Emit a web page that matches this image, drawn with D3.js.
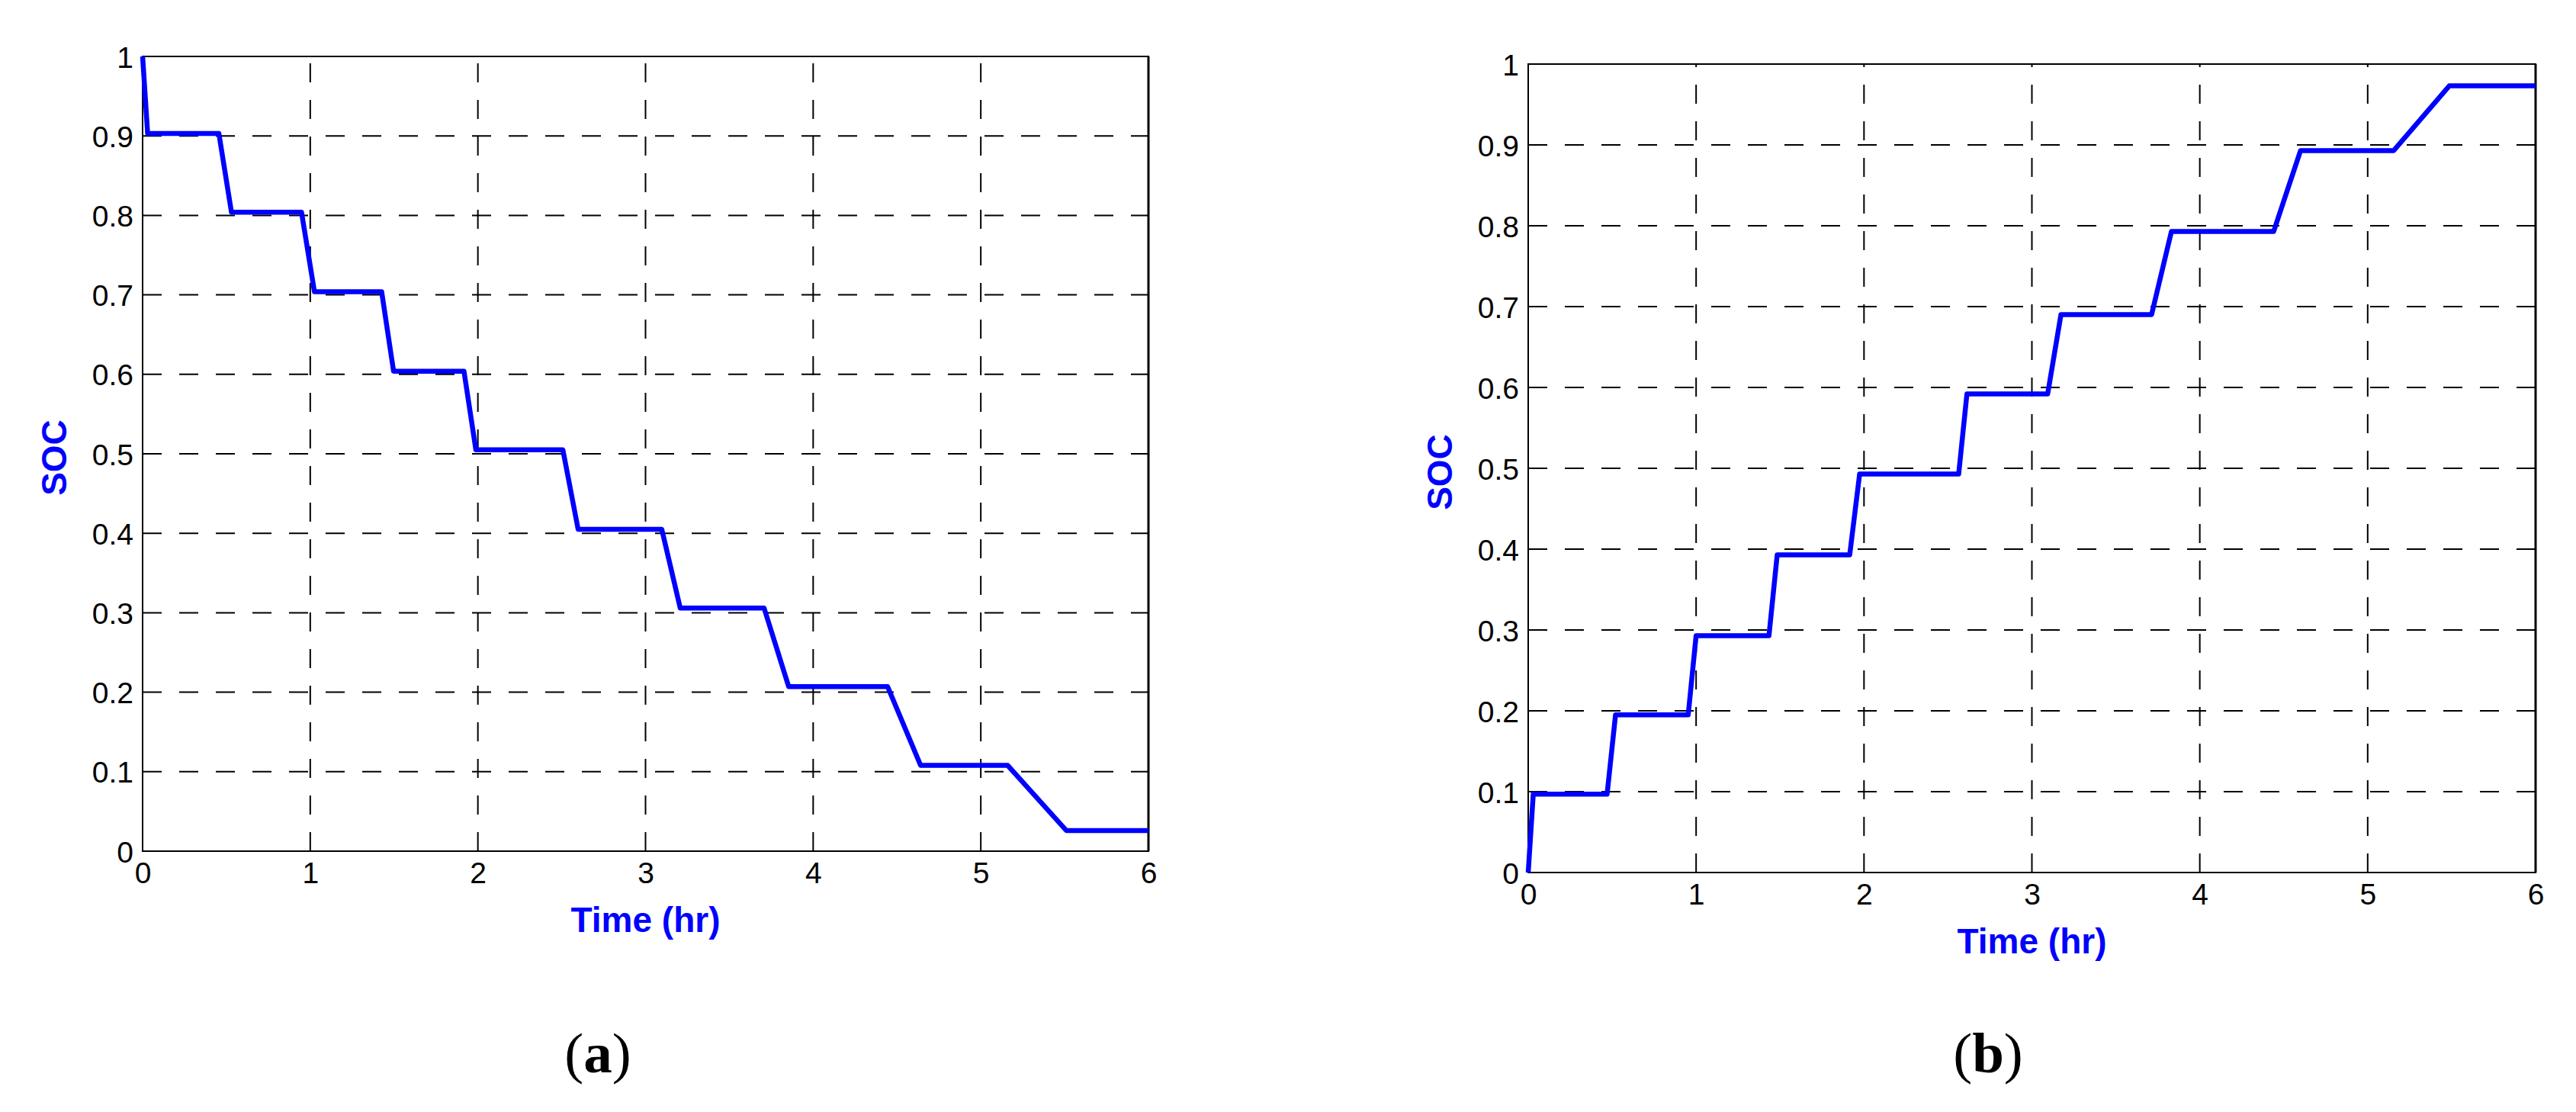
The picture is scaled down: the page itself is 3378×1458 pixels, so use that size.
<!DOCTYPE html>
<html>
<head>
<meta charset="utf-8">
<script src="https://cdn.jsdelivr.net/npm/d3@7"></script>
<style>
  html, body { margin: 0; padding: 0; background: #fff; }
  svg { display: block; }
</style>
</head>
<body>
<svg id="chart" width="3378" height="1458"></svg>
<script>
// ---- Data ----
const xTicks = [0, 1, 2, 3, 4, 5, 6];
const yTicks = [0, 0.1, 0.2, 0.3, 0.4, 0.5, 0.6, 0.7, 0.8, 0.9, 1];
const yTickLabels = ["0", "0.1", "0.2", "0.3", "0.4", "0.5", "0.6", "0.7", "0.8", "0.9", "1"];

// (a) discharge
const timeA = [0, 0.03, 0.455, 0.53, 0.948, 1.025, 1.426, 1.497, 1.917, 1.988, 2.507, 2.598, 3.097, 3.207, 3.707, 3.854, 4.444, 4.641, 5.16, 5.51, 6];
const socA  = [1.0, 0.903, 0.903, 0.804, 0.804, 0.704, 0.704, 0.604, 0.604, 0.505, 0.505, 0.405, 0.405, 0.306, 0.306, 0.207, 0.207, 0.108, 0.108, 0.026, 0.026];

// (b) charge
const timeB = [0, 0.03, 0.47, 0.52, 0.953, 1.0, 1.434, 1.483, 1.915, 1.974, 2.564, 2.613, 3.094, 3.173, 3.713, 3.831, 4.44, 4.6, 5.155, 5.486, 6];
const socB  = [0, 0.097, 0.097, 0.195, 0.195, 0.293, 0.293, 0.393, 0.393, 0.493, 0.493, 0.592, 0.592, 0.69, 0.69, 0.793, 0.793, 0.893, 0.893, 0.973, 0.973];

const xLabel = "Time (hr)";
const yLabel = "SOC";
const panelLabels = ["a", "b"];

// ---- Layout ----
const panels = [
  { t: timeA, s: socA, left: 187, right: 1506, top: 74, bottom: 1116, labelCx: 784, yLabelX: 87, xLabelY: 1222 },
  { t: timeB, s: socB, left: 2004, right: 3325, top: 84, bottom: 1144, labelCx: 2607, yLabelX: 1904, xLabelY: 1250 }
];

const svg = d3.select("#chart");
const BLUE = "#0000ff";

panels.forEach((p, i) => {
  const x = d3.scaleLinear().domain([0, 6]).range([p.left, p.right]);
  const y = d3.scaleLinear().domain([0, 1]).range([p.bottom, p.top]);
  const g = svg.append("g");

  // grid lines (dashed)
  g.append("g").selectAll("line.h").data(yTicks.slice(1, -1)).join("line")
    .attr("x1", p.left).attr("x2", p.right)
    .attr("y1", d => y(d)).attr("y2", d => y(d))
    .attr("stroke", "#000").attr("stroke-width", 2)
    .attr("stroke-dasharray", "25,23");
  g.append("g").selectAll("line.v").data(xTicks.slice(1, -1)).join("line")
    .attr("x1", d => x(d)).attr("x2", d => x(d))
    .attr("y1", p.bottom).attr("y2", p.top)
    .attr("stroke", "#000").attr("stroke-width", 2)
    .attr("stroke-dasharray", "25,23");

  // axes with tick labels
  const xAxis = d3.axisBottom(x).tickValues(xTicks).tickSize(0).tickPadding(14).tickFormat(d3.format("d"));
  const gx = g.append("g").attr("transform", `translate(0,${p.bottom})`).call(xAxis);
  gx.select(".domain").remove();
  gx.selectAll("text").attr("font-family", "'Liberation Sans', Arial, sans-serif")
    .attr("font-size", 39).attr("fill", "#000").attr("dy", "0.72em");

  const yAxis = d3.axisLeft(y).tickValues(yTicks).tickSize(0).tickPadding(12)
    .tickFormat((d, k) => yTickLabels[k]);
  const gy = g.append("g").attr("transform", `translate(${p.left},0)`).call(yAxis);
  gy.select(".domain").remove();
  gy.selectAll("text").attr("font-family", "'Liberation Sans', Arial, sans-serif")
    .attr("font-size", 39).attr("fill", "#000").attr("dy", "0.36em");

  // box
  g.append("rect").attr("x", p.left).attr("y", p.top)
    .attr("width", p.right - p.left).attr("height", p.bottom - p.top)
    .attr("fill", "none").attr("stroke", "#000").attr("stroke-width", 2);
  g.append("line").attr("x1", p.right).attr("x2", p.right).attr("y1", p.top).attr("y2", p.bottom)
    .attr("stroke", "#000").attr("stroke-width", 3);

  // data line
  const pts = p.t.map((tt, k) => [tt, p.s[k]]);
  g.append("path").datum(pts)
    .attr("d", d3.line().x(d => x(d[0])).y(d => y(d[1])))
    .attr("fill", "none").attr("stroke", BLUE).attr("stroke-width", 6.5)
    .attr("stroke-linejoin", "round");

  // axis labels
  g.append("text").attr("x", (p.left + p.right) / 2).attr("y", p.xLabelY)
    .attr("text-anchor", "middle")
    .attr("font-family", "'Liberation Sans', Arial, sans-serif").attr("font-weight", "bold")
    .attr("font-size", 46).attr("fill", BLUE).text(xLabel);
  const cy = (p.top + p.bottom) / 2 + 5;
  g.append("text").attr("transform", `translate(${p.yLabelX},${cy}) rotate(-90)`)
    .attr("text-anchor", "middle")
    .attr("font-family", "'Liberation Sans', Arial, sans-serif").attr("font-weight", "bold")
    .attr("font-size", 46).attr("fill", BLUE).text(yLabel);

  // panel label
  const pl = svg.append("text").attr("x", p.labelCx).attr("y", 1406)
    .attr("text-anchor", "middle")
    .attr("font-family", "'Liberation Serif', 'Times New Roman', serif")
    .attr("font-size", 75).attr("fill", "#000");
  pl.append("tspan").text("(");
  pl.append("tspan").attr("font-weight", "bold").text(panelLabels[i]);
  pl.append("tspan").text(")");
});
</script>
</body>
</html>
